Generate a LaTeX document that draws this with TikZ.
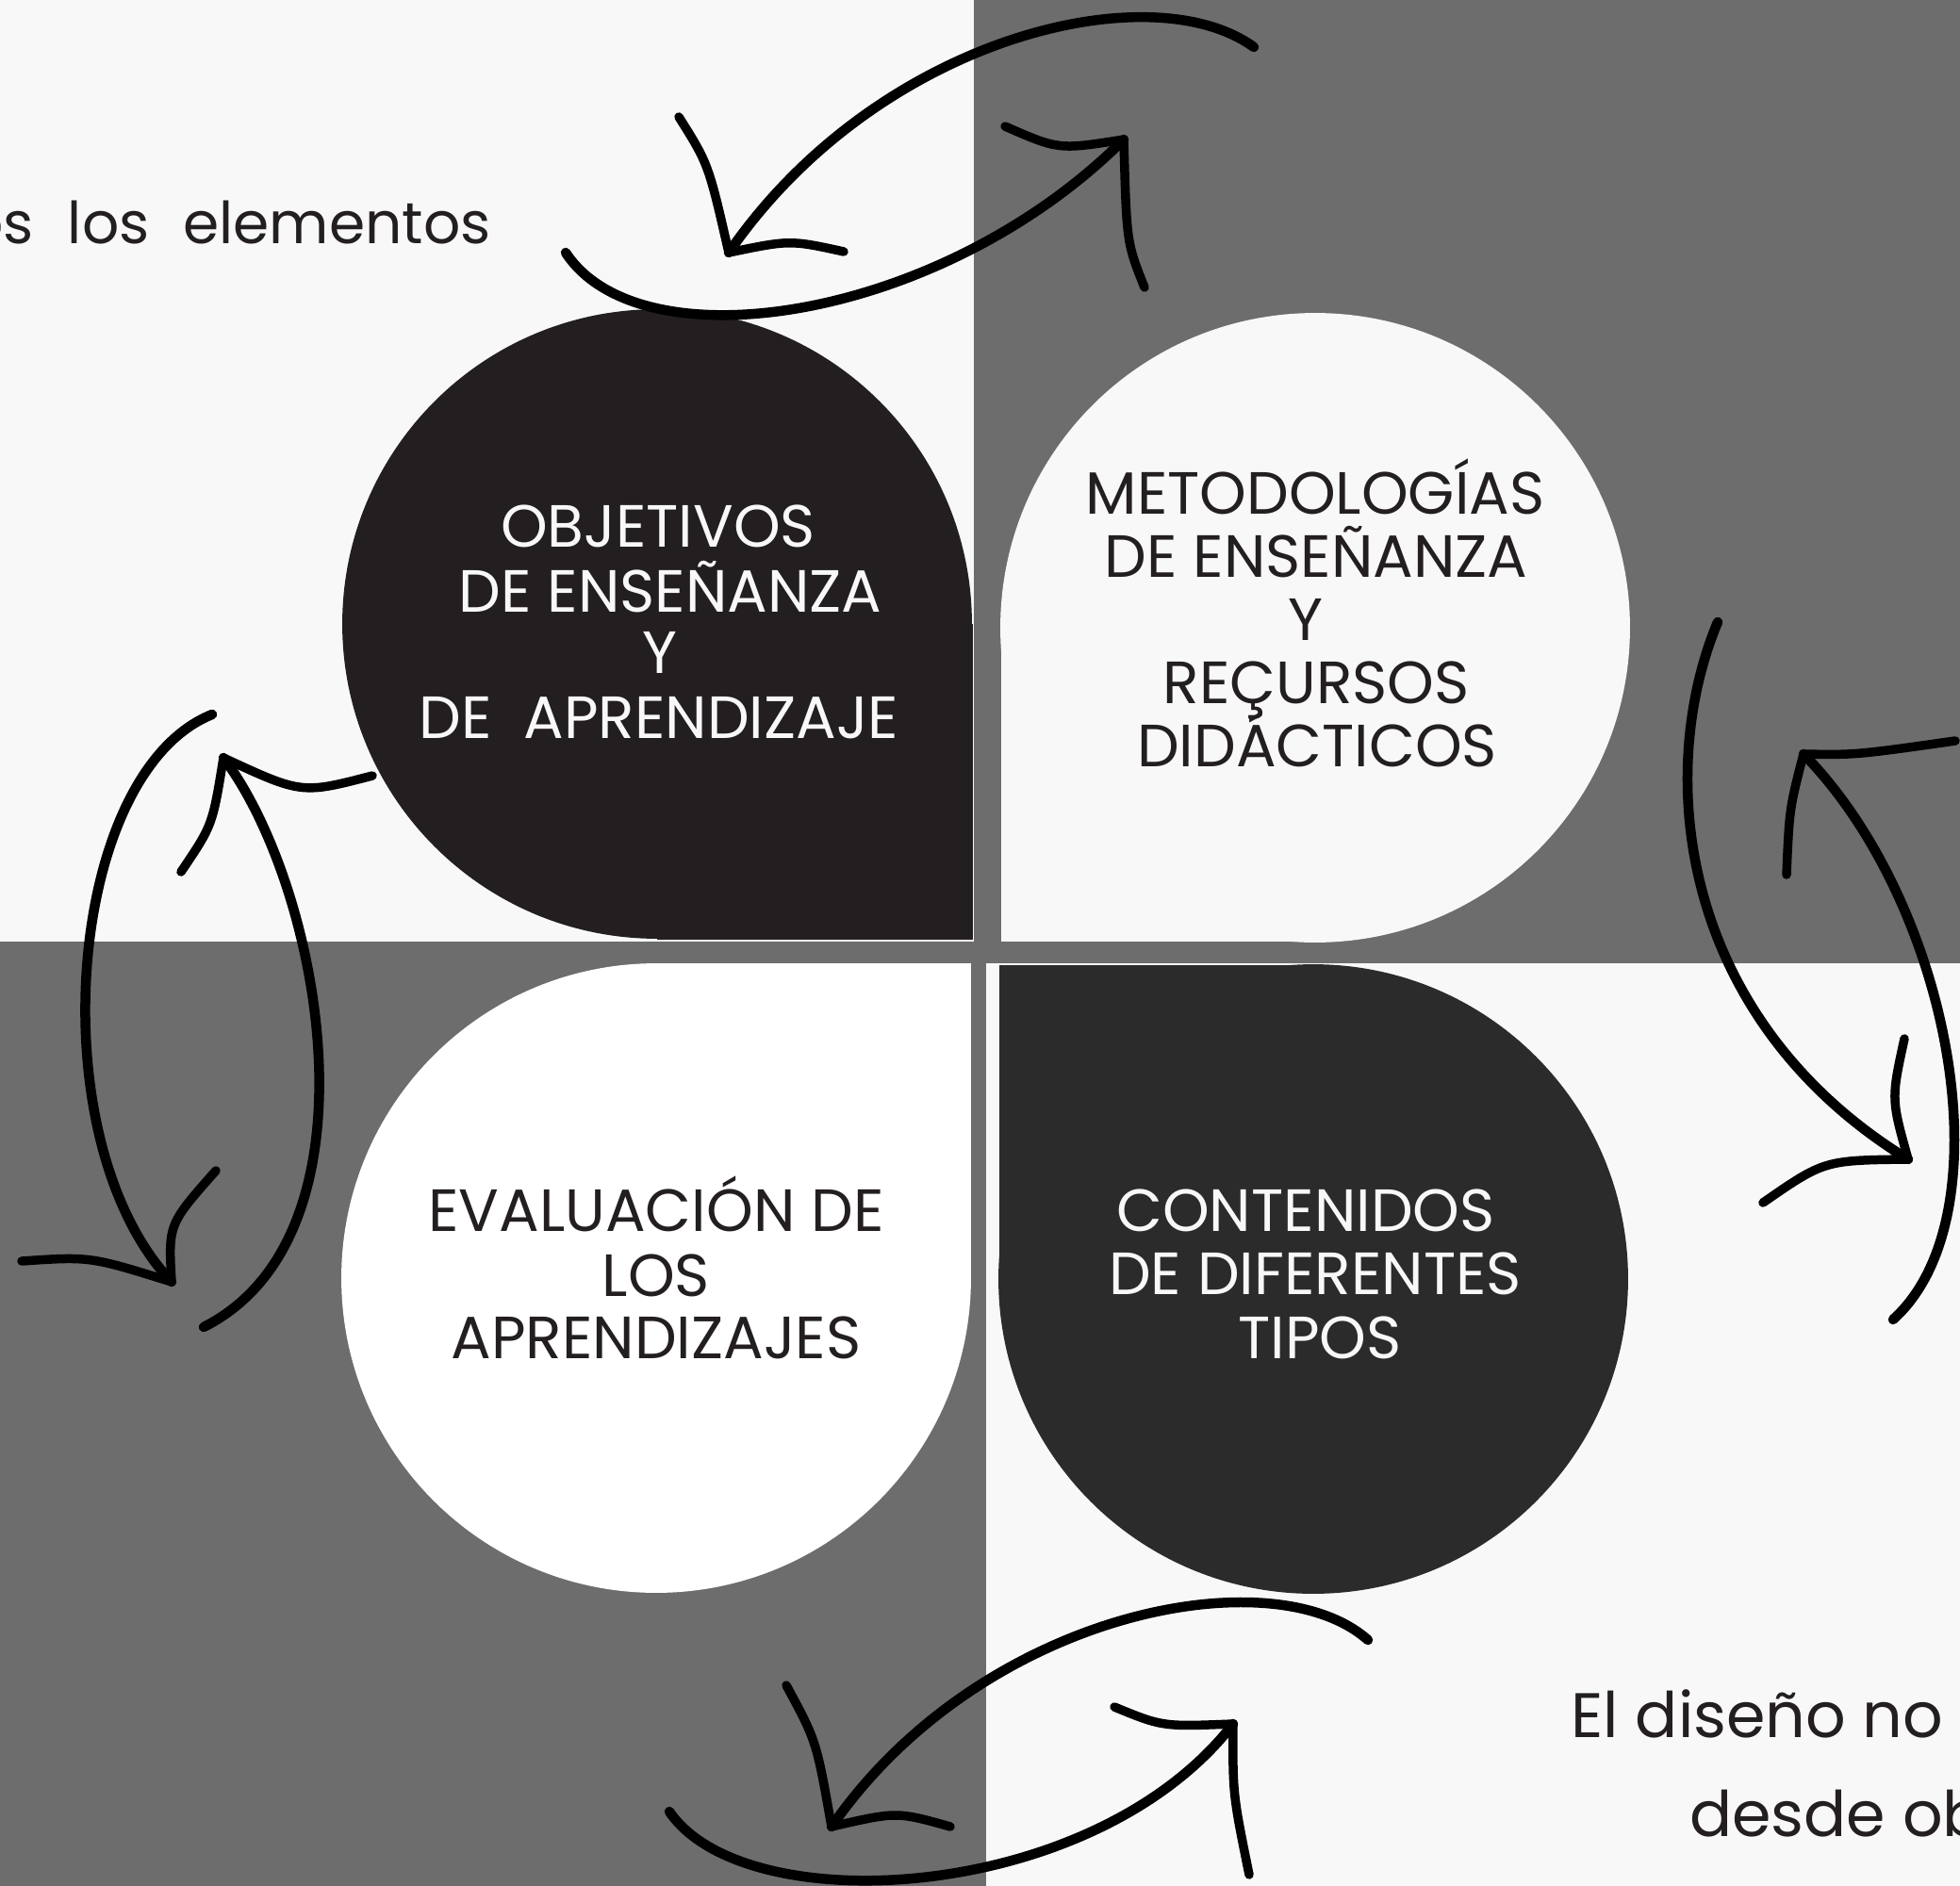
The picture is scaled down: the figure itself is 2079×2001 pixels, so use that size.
\documentclass[tikz,border=0pt]{standalone}
\usepackage{fontspec}
\setmainfont{Poppins}
\newfontfamily\handfont{Poppins}[WordSpace=2.2]
\definecolor{lightbg}{HTML}{F8F8F8}
\definecolor{graybg}{HTML}{6D6D6D}
\definecolor{shapetl}{HTML}{231F20}
\definecolor{shapetr}{HTML}{F8F8F8}
\definecolor{shapebl}{HTML}{FFFFFF}
\definecolor{shapebr}{HTML}{2B2B2B}
\definecolor{darktxt}{HTML}{231F20}
\begin{document}
\begin{tikzpicture}[x=0.02cm,y=-0.02cm,
  arr/.style={line width=0.21cm, line cap=round, line join=round, black},
  head/.style={line width=0.19cm, line cap=round, line join=round, black},
  blob/.style={circle, inner sep=0pt, minimum size=13.36cm},
  caps/.style={font=\fontsize{36}{36}\selectfont, inner sep=0pt, anchor=base},
  hand/.style={font=\handfont\fontsize{35}{35}\selectfont, inner sep=0pt, text=darktxt},
  hand2/.style={font=\fontsize{38}{38}\selectfont, inner sep=0pt, text=darktxt, anchor=base west}]
\useasboundingbox (0,0) rectangle (2079,2001);
\clip (0,0) rectangle (2079,2001);
% background quadrants
\fill[lightbg] (0,0) rectangle (2079,2001);
\fill[graybg] (1033,0) rectangle (2079,1022);
\fill[graybg] (0,999) rectangle (1046,2001);
% shapes
\node[blob, fill=shapetl] (obj) at (697,662) {};
\fill[shapetl] (obj.center) rectangle (1032,997);
\node[blob, fill=shapetr] (met) at (1395,666) {};
\fill[shapetr] (1062,666) rectangle (1395,999);
\node[blob, fill=shapebl] (eva) at (696,1356) {};
\fill[shapebl] (696,1022) rectangle (1030,1356);
\node[blob, fill=shapebr] (con) at (1393,1357) {};
\fill[shapebr] (1060,1024) rectangle (1393,1357);
% texts in shapes
\node[caps, text=lightbg] (obj1) at (698,580) {OBJETIVOS};
\node[caps, text=lightbg] (obj2) at (711,649) {DE ENSEÑANZA};
\node[caps, text=lightbg] (obj3) at (700,714) {Y};
\node[caps, text=lightbg] (obj4) at (699,783) {DE\ \ APRENDIZAJE};
\node[caps, text=darktxt] (met1) at (1395,545) {METODOLOGÍAS};
\node[caps, text=darktxt] (met2) at (1396,612) {DE ENSEÑANZA};
\node[caps, text=darktxt] (met3) at (1385,679) {Y};
\node[caps, text=darktxt] (met4) at (1396,746) {REÇURSOS};
\node[caps, text=darktxt] (met5) at (1397,813) {DIDÁCTICOS};
\node[caps, text=darktxt] (eva1) at (696,1306) {EVALUACIÓN DE};
\node[caps, text=darktxt] (eva2) at (696,1375) {LOS};
\node[caps, text=darktxt] (eva3) at (696,1441) {APRENDIZAJES};
\node[caps, text=lightbg] (con1) at (1385,1306) {CONTENIDOS};
\node[caps, text=lightbg] (con2) at (1395,1373) {DE DIFERENTES};
\node[caps, text=lightbg] (con3) at (1400,1441) {TIPOS};
% side texts
\node[hand, anchor=base east] (elem) at (521,258) {os los elementos};
\node[hand2] (dis1) at (1666,1843) {El diseño no};
\node[hand2] (dis2) at (1792,1948) {desde ob};
% arrow end coordinates
\coordinate (aS) at (1330,50);  \coordinate (aT) at (773,268);
\coordinate (bS) at (600,268);  \coordinate (bT) at (1192,148);
\coordinate (cS) at (2008,1400); \coordinate (cT) at (1913,800);
\coordinate (dS) at (1822,660); \coordinate (dT) at (2024,1230);
\coordinate (eS) at (1451,1740); \coordinate (eT) at (882,1938);
\coordinate (fS) at (710,1922); \coordinate (fT) at (1308,1829);
\coordinate (gS) at (216,1408); \coordinate (gT) at (237,804);
\coordinate (hS) at (225,758); \coordinate (hT) at (182,1360);
% top pair
\draw[arr] (aS) .. controls (1220,-30) and (930,40) .. (aT);
\draw[head] (720,124) .. controls (751.5,174) .. (aT);
\draw[head] (aT) .. controls (838,254.5) .. (895,267);
\draw[arr] (bS) .. controls (680,390) and (1000,340) .. (bT);
\draw[head] (1066,134) .. controls (1123,159) .. (bT);
\draw[head] (bT) .. controls (1195,257.5) .. (1214,305);
% right pair
\draw[arr] (cT) .. controls (2070,960) and (2130,1290) .. (cS);
\draw[head] (cT) .. controls (1968.5,801) .. (2074,786);
\draw[head] (cT) .. controls (1898,858) .. (1895,928);
\draw[arr] (dS) .. controls (1755,820) and (1780,1080) .. (dT);
\draw[head] (2020,1102) .. controls (2006,1166) .. (dT);
\draw[head] (dT) .. controls (1935,1231) .. (1870,1276);
% bottom pair
\draw[arr] (eS) .. controls (1350,1650) and (1040,1710) .. (eT);
\draw[head] (834,1788) .. controls (866,1847) .. (eT);
\draw[head] (eT) .. controls (951,1922) .. (1008,1938);
\draw[arr] (fS) .. controls (790,2040) and (1160,2020) .. (fT);
\draw[head] (1182,1811) .. controls (1233,1832) .. (fT);
\draw[head] (fT) .. controls (1307.5,1903) .. (1325,1989);
% left pair
\draw[arr] (gT) .. controls (340,940) and (410,1310) .. (gS);
\draw[head] (395,823) .. controls (320,842.5) .. (gT);
\draw[head] (gT) .. controls (225.5,875.5) .. (192,925);
\draw[arr] (hS) .. controls (70,820) and (40,1210) .. (hT);
\draw[head] (229,1242) .. controls (178.5,1299) .. (hT);
\draw[head] (hT) .. controls (95.5,1333) .. (23,1338);
\end{tikzpicture}
\end{document}
